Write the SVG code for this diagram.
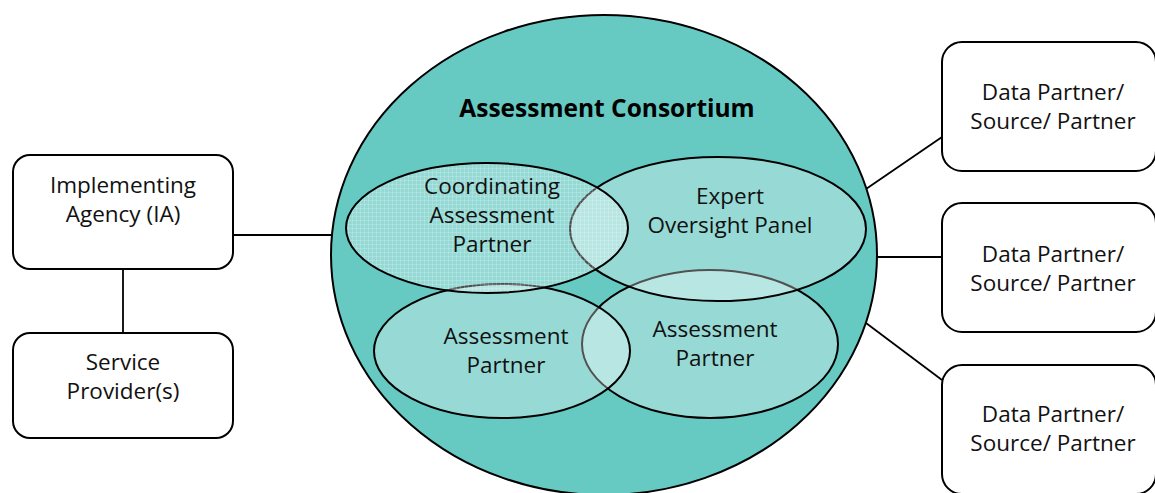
<svg xmlns="http://www.w3.org/2000/svg" width="1155" height="493" viewBox="0 0 1155 493">
<style>
.box{fill:#ffffff;stroke:#000;stroke-width:2}
.con{stroke:#000;stroke-width:1.8;fill:none}
.ell{fill:#ffffff;fill-opacity:0.32;stroke:#000;stroke-width:2}
.t{font-family:"Open Sans","Liberation Sans",sans-serif;font-size:22.5px;fill:#111;text-anchor:middle}
.tb{font-family:"Open Sans","Liberation Sans",sans-serif;font-size:24.5px;font-weight:bold;fill:#000;text-anchor:middle}
</style>
<defs>
<pattern id="grid" width="4" height="4" patternUnits="userSpaceOnUse">
<rect width="4" height="4" fill="#ffffff" fill-opacity="0.30"/>
<path d="M0 0.5H4M0.5 0V4" stroke="#ffffff" stroke-opacity="0.18" stroke-width="1"/>
</pattern>
</defs>
<rect width="1155" height="493" fill="#ffffff"/>
<g id="connectors">
<line class="con" x1="233" y1="235" x2="332" y2="235"/>
<line class="con" x1="123" y1="269" x2="123" y2="333"/>
<line class="con" x1="866" y1="189" x2="942" y2="137"/>
<line class="con" x1="876" y1="257" x2="942" y2="257"/>
<line class="con" x1="866" y1="323" x2="942" y2="380"/>
</g>
<g id="consortium">
<ellipse cx="604" cy="255" rx="273" ry="240" fill="#66c9c2" stroke="#000" stroke-width="2"/>
<text class="tb" x="607" y="117">Assessment Consortium</text>
</g>
<g id="assessment-partner-right">
<ellipse class="ell" cx="710" cy="344" rx="128" ry="74"/>
<text class="t" x="715" y="337">Assessment</text>
<text class="t" x="715" y="366">Partner</text>
</g>
<g id="assessment-partner-left">
<ellipse class="ell" cx="502" cy="351" rx="128" ry="67"/>
<text class="t" x="506" y="344">Assessment</text>
<text class="t" x="506" y="373">Partner</text>
</g>
<g id="expert-panel">
<ellipse class="ell" cx="718" cy="229" rx="148" ry="72"/>
<text class="t" x="730" y="204">Expert</text>
<text class="t" x="730" y="233">Oversight Panel</text>
</g>
<g id="coordinating-partner">
<ellipse cx="487" cy="228" rx="141" ry="65" fill="url(#grid)" stroke="#000" stroke-width="2"/>
<text class="t" x="492" y="194">Coordinating</text>
<text class="t" x="492" y="223">Assessment</text>
<text class="t" x="492" y="252">Partner</text>
</g>
<g id="implementing-agency">
<rect class="box" x="13" y="155" width="220" height="114" rx="17"/>
<text class="t" x="123" y="193">Implementing</text>
<text class="t" x="123" y="222">Agency (IA)</text>
</g>
<g id="service-provider">
<rect class="box" x="13" y="333" width="220" height="105" rx="17"/>
<text class="t" x="123" y="370">Service</text>
<text class="t" x="123" y="399">Provider(s)</text>
</g>
<g id="data-partner-1">
<rect class="box" x="942" y="42" width="214" height="129" rx="20"/>
<text class="t" x="1053" y="100">Data Partner/</text>
<text class="t" x="1053" y="129">Source/ Partner</text>
</g>
<g id="data-partner-2">
<rect class="box" x="942" y="203" width="214" height="129" rx="20"/>
<text class="t" x="1053" y="262">Data Partner/</text>
<text class="t" x="1053" y="291">Source/ Partner</text>
</g>
<g id="data-partner-3">
<rect class="box" x="942" y="365" width="214" height="129" rx="20"/>
<text class="t" x="1053" y="422">Data Partner/</text>
<text class="t" x="1053" y="451">Source/ Partner</text>
</g>
</svg>
